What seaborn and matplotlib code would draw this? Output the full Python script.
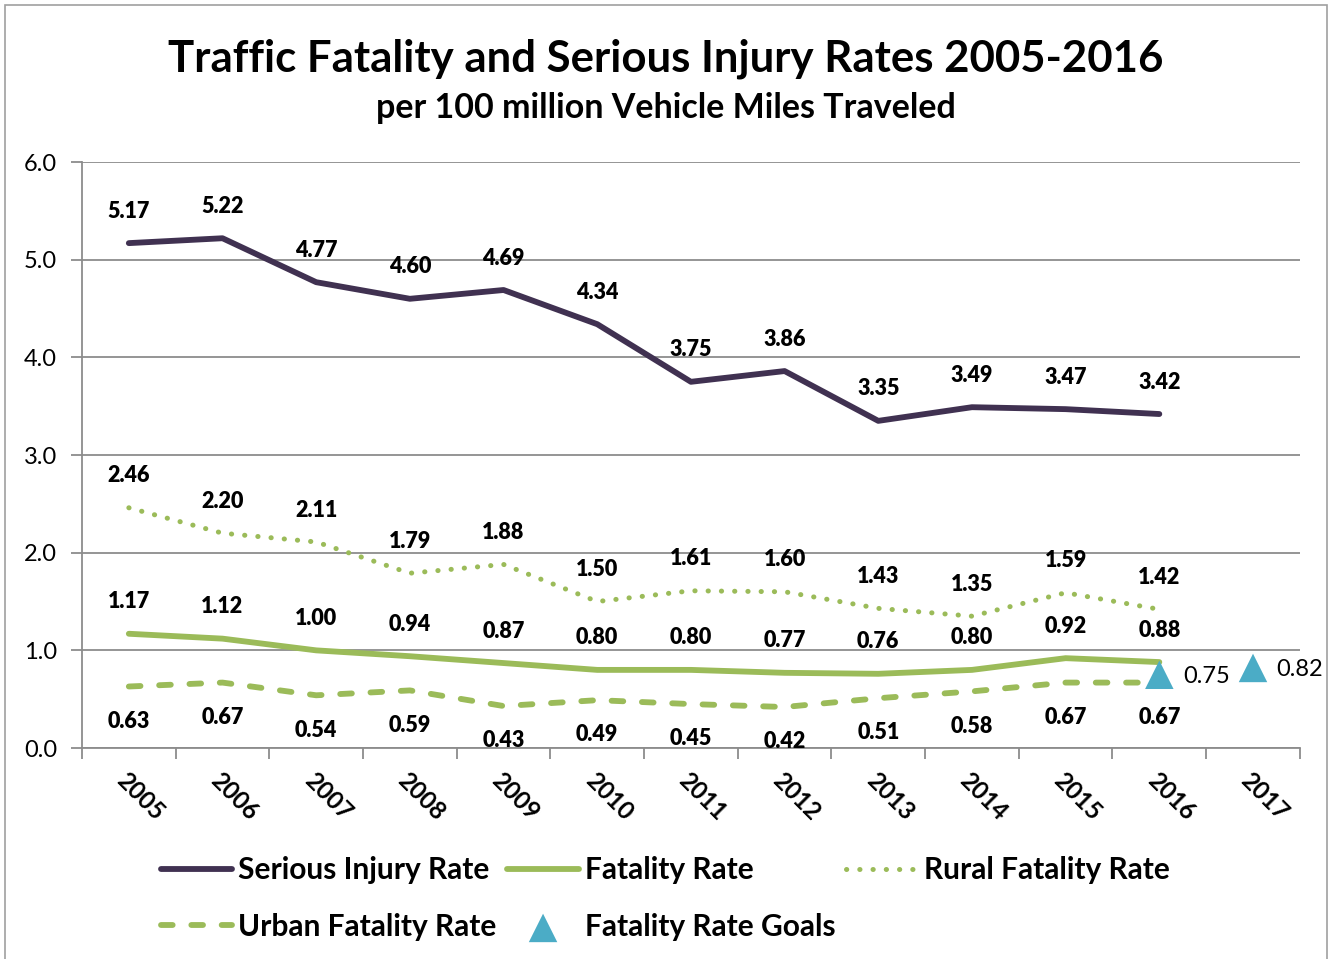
import matplotlib
matplotlib.use("Agg")
import matplotlib.pyplot as plt
import seaborn as sns
from matplotlib.patches import Rectangle

# chart values
years = [2005, 2006, 2007, 2008, 2009, 2010, 2011, 2012, 2013, 2014, 2015, 2016]
serious_injury = [5.17, 5.22, 4.77, 4.60, 4.69, 4.34, 3.75, 3.86, 3.35, 3.49, 3.47, 3.42]
fatality = [1.17, 1.12, 1.00, 0.94, 0.87, 0.80, 0.80, 0.77, 0.76, 0.80, 0.92, 0.88]
rural_fatality = [2.46, 2.20, 2.11, 1.79, 1.88, 1.50, 1.61, 1.60, 1.43, 1.35, 1.59, 1.42]
urban_fatality = [0.63, 0.67, 0.54, 0.59, 0.43, 0.49, 0.45, 0.42, 0.51, 0.58, 0.67, 0.67]
goal_years = [2016, 2017]
goal_values = [0.75, 0.82]
tick_years = list(range(2005, 2018))

sns.set_style("white")
plt.rcParams['font.family'] = ['Lato', 'DejaVu Sans']
plt.rcParams['text.color'] = 'black'
plt.rcParams['xtick.color'] = 'black'
plt.rcParams['ytick.color'] = 'black'

purple = '#403151'
green = '#9BBB59'
blue = '#4BACC6'
grid_gray = '#8C8C8C'

fig = plt.figure(figsize=(13.31, 9.59), dpi=100)
ax = fig.add_axes([0.0616, 0.22, 0.915, 0.611])

sns.lineplot(x=years, y=serious_injury, ax=ax, color=purple, lw=4.2,
             label='Serious Injury Rate', solid_capstyle='round', solid_joinstyle='round')
sns.lineplot(x=years, y=fatality, ax=ax, color=green, lw=4.2,
             label='Fatality Rate', solid_capstyle='round', solid_joinstyle='round')
sns.lineplot(x=years, y=rural_fatality, ax=ax, color=green, lw=3.6,
             linestyle=(0, (0.05, 2.6)), dash_capstyle='round',
             label='Rural Fatality Rate')
sns.lineplot(x=years, y=urban_fatality, ax=ax, color=green, lw=4.2,
             linestyle=(0, (2.0, 3.2)), dash_capstyle='round',
             label='Urban Fatality Rate')
sns.scatterplot(x=goal_years, y=goal_values, ax=ax, marker='^', s=420,
                color=blue, edgecolor='none', label='Fatality Rate Goals', zorder=5)

# data labels
lab_kw = dict(textcoords='offset points', ha='center', va='center',
              fontsize=15.5, fontweight='heavy', color='black')
for x, y in zip(years, serious_injury):
    ax.annotate(f'{y:.2f}', (x, y), xytext=(0, 23), **lab_kw)
for x, y in zip(years, rural_fatality):
    ax.annotate(f'{y:.2f}', (x, y), xytext=(0, 23), **lab_kw)
for x, y in zip(years, fatality):
    ax.annotate(f'{y:.2f}', (x, y), xytext=(0, 23), **lab_kw)
for x, y in zip(years, urban_fatality):
    ax.annotate(f'{y:.2f}', (x, y), xytext=(0, -25), **lab_kw)
for x, y in zip(goal_years, goal_values):
    ax.annotate(f'{y:.2f}', (x, y), xytext=(17, -1), textcoords='offset points',
                ha='left', va='center', fontsize=17, color='black')

# axes styling
ax.set_xlim(2004.5, 2017.5)
ax.set_ylim(0, 6)
ax.set_yticks([0, 1, 2, 3, 4, 5, 6])
ax.set_yticklabels([f'{v:.1f}' for v in [0, 1, 2, 3, 4, 5, 6]], fontsize=17)
ax.yaxis.grid(True, color=grid_gray, lw=1.3)
ax.set_axisbelow(True)

ax.set_xticks([y - 0.5 for y in tick_years] + [2017.5])
ax.set_xticklabels([])
ax.set_xticks(tick_years, minor=True)
ax.set_xticklabels([str(y) for y in tick_years], minor=True, rotation=-45,
                   ha='left', va='top', rotation_mode='anchor', fontsize=17.5,
                   fontweight='bold')
ax.tick_params(axis='x', which='major', direction='out', length=8, width=1.3,
               color=grid_gray, bottom=True)
ax.tick_params(axis='x', which='minor', length=0, pad=15)
ax.tick_params(axis='y', direction='out', length=8, width=1.3, color=grid_gray,
               left=True, pad=10)

for side in ['top', 'right']:
    ax.spines[side].set_visible(False)
for side in ['left', 'bottom']:
    ax.spines[side].set_color(grid_gray)
    ax.spines[side].set_linewidth(1.3)

ax.set_xlabel('')
ax.set_ylabel('')

# titles
fig.text(0.5, 0.939, 'Traffic Fatality and Serious Injury Rates 2005-2016',
         ha='center', va='center', fontsize=31.5, fontweight='bold')
fig.text(0.5, 0.887, 'per 100 million Vehicle Miles Traveled',
         ha='center', va='center', fontsize=24.5, fontweight='bold')

# legend
handles, labels = ax.get_legend_handles_labels()
ax.get_legend().remove()
order = [0, 3, 1, 4, 2]
fig.legend([handles[i] for i in order], [labels[i] for i in order],
           loc='center', bbox_to_anchor=(0.4997, 0.063), ncol=3, frameon=False,
           prop={'size': 21.5, 'weight': 'bold'}, handlelength=2.4,
           handletextpad=0.2, columnspacing=0.35, labelspacing=0.95)

fig.patches.append(Rectangle((0.004, -0.01), 0.993, 1.005, transform=fig.transFigure,
                             fill=False, edgecolor='#A0A0A0', lw=1.2))

fig.savefig('out.png', dpi=100)
